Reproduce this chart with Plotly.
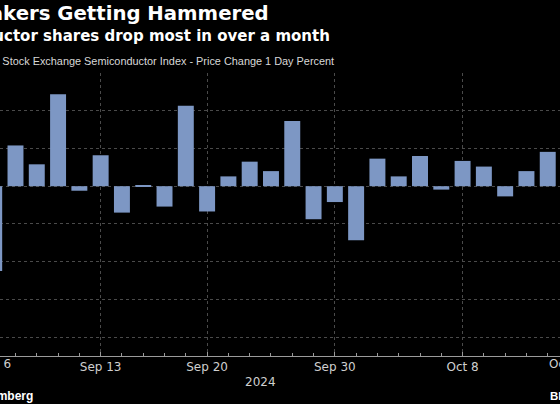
import plotly.graph_objects as go

# Trading days (Sep 6 .. Oct 14, 2024) and 1-day % change of the semiconductor index
dates = ["Sep 6", "Sep 9", "Sep 10", "Sep 11", "Sep 12", "Sep 13",
         "Sep 16", "Sep 17", "Sep 18", "Sep 19", "Sep 20",
         "Sep 23", "Sep 24", "Sep 25", "Sep 26", "Sep 27",
         "Sep 30", "Oct 1", "Oct 2", "Oct 3", "Oct 4",
         "Oct 7", "Oct 8", "Oct 9", "Oct 10", "Oct 11", "Oct 14"]
pct_change = [-4.50, 2.16, 1.16, 4.88, -0.24, 1.64,
              -1.40, 0.06, -1.08, 4.26, -1.34,
              0.52, 1.30, 0.80, 3.46, -1.75,
              -0.84, -2.86, 1.46, 0.52, 1.60,
              -0.18, 1.34, 1.04, -0.54, 0.80, 1.82]
tick_labels = ["Sep 6", "Sep 13", "Sep 20", "Sep 30", "Oct 8", "Oct 15"]
tick_index = [0, 5, 10, 16, 22, 27]
year_label = "2024"

title = "Chipmakers Getting Hammered"
subtitle = "Semiconductor shares drop most in over a month"
series_name = "Philadelphia Stock Exchange Semiconductor Index - Price Change 1 Day Percent"
source = "Source: Bloomberg"
brand = "Bloomberg"

W, H = 560, 404
T, B = 73, 48
PH = H - T - B
SLOT = 21.29
X0 = -5.8  # pixel centre of first category


def px_to_paper_x(px):
    return px / W


def px_to_paper_y(py):
    return (H - B - py) / PH


xs = list(range(len(dates)))

fig = go.Figure()
fig.add_trace(go.Bar(
    x=xs, y=pct_change,
    marker=dict(color="#7d97c4", line=dict(width=0)),
    hovertext=dates, hoverinfo="text+y",
))

left_i = (0 - X0) / SLOT
right_i = (W - X0) / SLOT

fig.update_layout(
    width=W, height=H,
    margin=dict(l=0, r=0, t=T, b=B, pad=0),
    paper_bgcolor="#000000", plot_bgcolor="#000000",
    showlegend=False, bargap=0.25,
    font=dict(family="DejaVu Sans", color="#cfcfcf", size=12),
    xaxis=dict(
        range=[left_i, right_i],
        tickvals=[i for i in tick_index if i < len(dates)],
        ticktext=[t for i, t in zip(tick_index, tick_labels) if i < len(dates)],
        ticks="inside", ticklen=4, tickcolor="#9a9a9a", tickwidth=1,
        showline=True, linecolor="#9a9a9a", linewidth=1,
        showgrid=True, gridcolor="#4a4a4a", griddash="dot", gridwidth=1,
        zeroline=False,
        tickfont=dict(family="DejaVu Sans", size=12, color="#cfcfcf"),
        minor=dict(tickvals=xs, ticks="inside", ticklen=3,
                   tickcolor="#9a9a9a", showgrid=False),
    ),
    yaxis=dict(
        range=[-9, 6], dtick=2, tick0=0,
        showticklabels=False, ticks="",
        showgrid=True, gridcolor="#4a4a4a", griddash="dot", gridwidth=1,
        zeroline=False, showline=False,
    ),
)


def note(text, px, py, anchor, size, color, bold=False, family="DejaVu Sans"):
    return dict(text=f"<b>{text}</b>" if bold else text,
                xref="paper", yref="paper",
                x=px_to_paper_x(px), y=px_to_paper_y(py),
                xanchor=anchor, yanchor="middle", showarrow=False,
                font=dict(family=family, size=size, color=color))


ann = [
    note(title, 271, 13, "right", 19.7, "#ffffff", True),
    note(subtitle, 332, 36, "right", 15, "#ffffff", True),
    note(series_name, 336, 61, "right", 10.9, "#d8d8d8", family="Liberation Sans"),
    note(tick_labels[0], X0 + tick_index[0] * SLOT, 364, "center", 12, "#cfcfcf"),
    note(tick_labels[-1], X0 + tick_index[-1] * SLOT, 364, "center", 12, "#cfcfcf"),
    note(year_label, 260, 382, "center", 12, "#cfcfcf"),
    note(source, 35, 396, "right", 12, "#ffffff", True, family="Liberation Sans"),
    note(brand, 548, 396, "left", 11.5, "#ffffff", True, family="Liberation Sans"),
]
fig.update_layout(annotations=ann)

fig.write_html(
    "out.html",
    config={"displayModeBar": False},
    post_script="document.body.style.margin='0';document.body.style.background='#000';",
)
